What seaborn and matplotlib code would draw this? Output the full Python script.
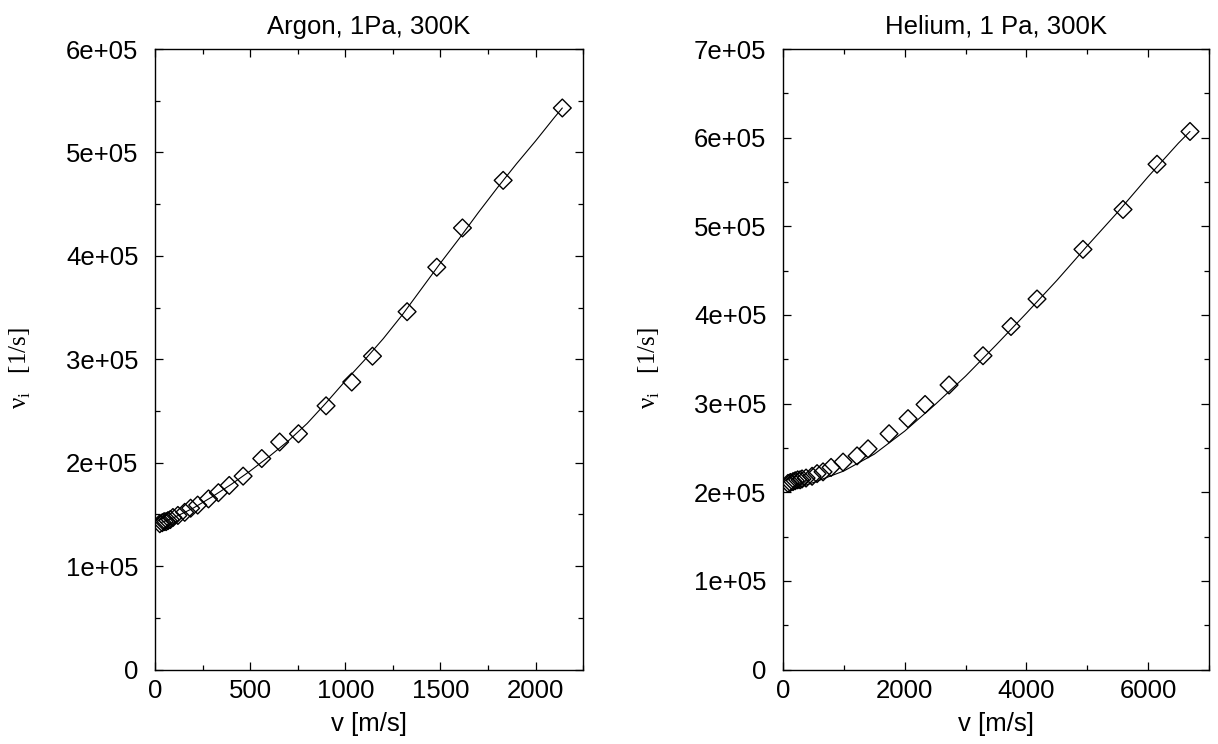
import numpy as np
import pandas as pd
import matplotlib
matplotlib.use("Agg")
import matplotlib.pyplot as plt
from matplotlib.ticker import MultipleLocator, FuncFormatter
import seaborn as sns

# ---------------- data ----------------
argon_title = "Argon, 1Pa, 300K"
helium_title = "Helium, 1 Pa, 300K"
xlabel = "v [m/s]"
ylabel = "ν$_\\mathregular{i}$   [1/s]"

argon_v = [25, 38, 48, 58, 68, 80, 94, 120, 156, 187, 224, 281, 333, 390, 463,
           561, 655, 754, 899, 1034, 1143, 1325, 1481, 1616, 1830, 2141]
argon_nu = [1.41e5, 1.42e5, 1.43e5, 1.43e5, 1.44e5, 1.45e5, 1.47e5, 1.49e5,
            1.52e5, 1.56e5, 1.59e5, 1.65e5, 1.71e5, 1.78e5, 1.87e5, 2.04e5,
            2.20e5, 2.28e5, 2.55e5, 2.78e5, 3.03e5, 3.46e5, 3.89e5, 4.27e5,
            4.73e5, 5.43e5]
argon_fit_v = [30, 100, 200, 300, 400, 500, 600, 700, 800, 900, 1000, 1100,
               1200, 1300, 1400, 1500, 1600, 1700, 1800, 1900, 2000, 2100, 2141]
argon_fit_nu = [1.42e5, 1.47e5, 1.56e5, 1.67e5, 1.79e5, 1.92e5, 2.06e5, 2.21e5,
                2.38e5, 2.58e5, 2.79e5, 2.99e5, 3.20e5, 3.43e5, 3.68e5, 3.93e5,
                4.17e5, 4.42e5, 4.66e5, 4.89e5, 5.11e5, 5.34e5, 5.43e5]

helium_v = [82, 120, 164, 200, 240, 280, 312, 378, 477, 559, 657, 789, 986,
            1216, 1397, 1742, 2054, 2334, 2728, 3286, 3746, 4174, 4929, 5587,
            6146, 6688]
helium_nu = [2.10e5, 2.11e5, 2.12e5, 2.13e5, 2.14e5, 2.14e5, 2.15e5, 2.16e5,
             2.18e5, 2.21e5, 2.23e5, 2.28e5, 2.34e5, 2.41e5, 2.49e5, 2.66e5,
             2.83e5, 2.99e5, 3.21e5, 3.54e5, 3.87e5, 4.18e5, 4.74e5, 5.19e5,
             5.70e5, 6.07e5]
helium_fit_v = [80, 500, 1000, 1500, 2000, 2500, 3000, 3500, 4000, 4500, 5000,
                5500, 6000, 6500, 6688]
helium_fit_nu = [2.01e5, 2.11e5, 2.24e5, 2.43e5, 2.69e5, 2.99e5, 3.31e5,
                 3.66e5, 4.02e5, 4.39e5, 4.78e5, 5.16e5, 5.56e5, 5.94e5, 6.07e5]

argon_xlim = (0, 2250)
argon_ylim = (0, 6e5)
helium_xlim = (0, 7000)
helium_ylim = (0, 7e5)

# ---------------- style ----------------
sns.set_theme(style="ticks")
plt.rcParams["font.family"] = ["Liberation Sans", "DejaVu Sans"]
for k in ["text.color", "axes.labelcolor", "xtick.color", "ytick.color",
          "axes.edgecolor"]:
    plt.rcParams[k] = "black"
plt.rcParams["axes.linewidth"] = 1.0

FS = 18.5

fig = plt.figure(figsize=(12.18, 7.44), dpi=100)
ax1 = fig.add_axes([0.1273, 0.1001, 0.3514, 0.834])
ax2 = fig.add_axes([0.6429, 0.1001, 0.3497, 0.834])

sci = FuncFormatter(lambda v, p: "0" if v == 0 else f"{v:.0e}")


def panel(ax, v, nu, fv, fnu, title, xlim, ylim, xmaj, xmin):
    sns.lineplot(x=fv, y=fnu, ax=ax, color="black", linewidth=0.8,
                 sort=False, estimator=None)
    sns.scatterplot(x=v, y=nu, ax=ax, marker="D", s=82, facecolor="none",
                    edgecolor="black", linewidth=1.0, zorder=3)
    ax.set_xlim(*xlim)
    ax.set_ylim(*ylim)
    ax.xaxis.set_major_locator(MultipleLocator(xmaj))
    ax.xaxis.set_minor_locator(MultipleLocator(xmin))
    ax.yaxis.set_major_locator(MultipleLocator(1e5))
    ax.yaxis.set_minor_locator(MultipleLocator(5e4))
    ax.yaxis.set_major_formatter(sci)
    ax.tick_params(which="both", direction="in", top=True, right=True,
                   color="black", width=0.9)
    ax.tick_params(which="major", length=6)
    ax.tick_params(which="minor", length=3.5)
    ax.tick_params(axis="x", which="major", pad=7, labelsize=FS)
    ax.tick_params(axis="y", which="major", pad=12, labelsize=FS)
    ax.set_title(title, fontsize=FS, pad=11, color="black")
    ax.set_xlabel(xlabel, fontsize=FS, labelpad=6)
    ax.set_ylabel(ylabel, fontsize=18, family=["Liberation Serif", "DejaVu Serif"])
    ax.yaxis.set_label_coords(-0.285, 0.486)
    for s in ax.spines.values():
        s.set_color("black")
        s.set_linewidth(1.0)


panel(ax1, argon_v, argon_nu, argon_fit_v, argon_fit_nu, argon_title,
      argon_xlim, argon_ylim, 500, 250)
panel(ax2, helium_v, helium_nu, helium_fit_v, helium_fit_nu, helium_title,
      helium_xlim, helium_ylim, 2000, 1000)

fig.savefig("out.png", dpi=100)
